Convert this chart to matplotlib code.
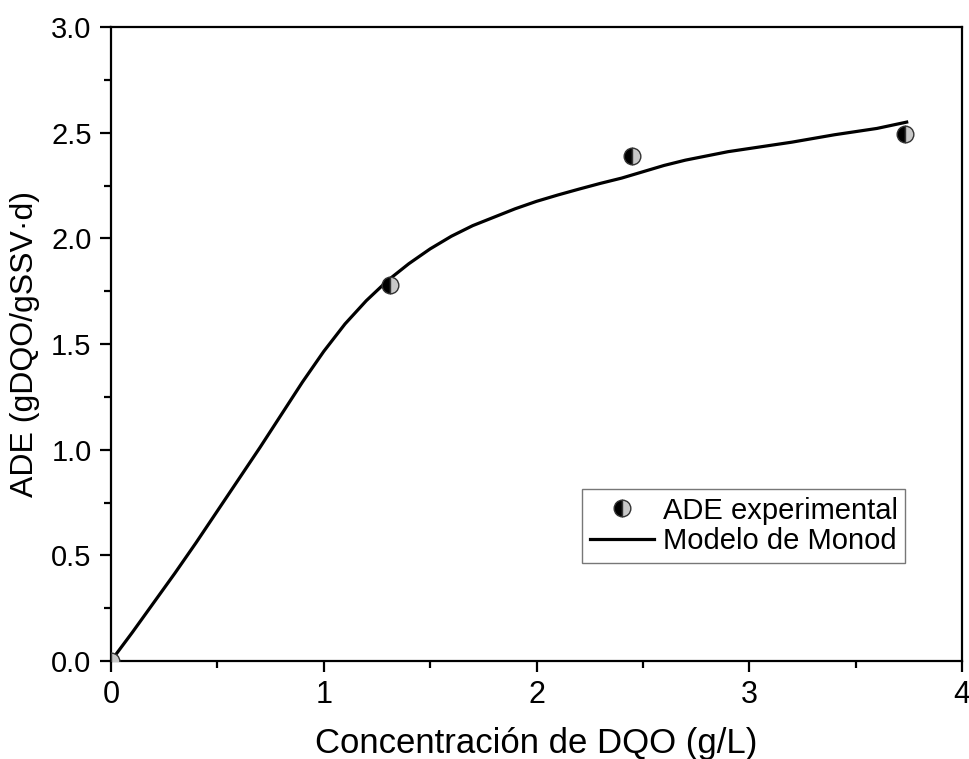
import matplotlib
matplotlib.use("Agg")
import matplotlib.pyplot as plt
from matplotlib.ticker import MultipleLocator, FormatStrFormatter

plt.rcParams['font.family'] = ['Liberation Sans', 'DejaVu Sans']

# experimental points
dqo_exp = [0.0, 1.31, 2.45, 3.73]
ade_exp = [0.0, 1.78, 2.39, 2.495]

# Monod model curve
dqo_model = [0.0, 0.1, 0.2, 0.3, 0.4, 0.5, 0.6, 0.7, 0.8, 0.9, 1.0, 1.1,
             1.2, 1.3, 1.4, 1.5, 1.6, 1.7, 1.8, 1.9, 2.0, 2.1, 2.2, 2.3,
             2.4, 2.5, 2.6, 2.7, 2.8, 2.9, 3.0, 3.2, 3.4, 3.6, 3.74]
ade_model = [0.0, 0.135, 0.275, 0.415, 0.56, 0.71, 0.86, 1.01, 1.165, 1.32,
             1.465, 1.595, 1.705, 1.80, 1.88, 1.95, 2.01, 2.06, 2.10, 2.14,
             2.175, 2.205, 2.233, 2.26, 2.285, 2.315, 2.345, 2.37, 2.39, 2.41,
             2.425, 2.455, 2.49, 2.52, 2.55]

fig = plt.figure(figsize=(9.69, 7.59), dpi=100)
ax = fig.add_axes([111/969, 1 - 661/759, 851/969, 634/759])

ax.plot(dqo_exp, ade_exp, linestyle="none", marker="o", markersize=12,
        fillstyle="left", markerfacecolor="black", markerfacecoloralt="#c8c8c8",
        markeredgecolor="#333333", markeredgewidth=1.0, label="ADE experimental",
        zorder=3)
ax.plot(dqo_model, ade_model, color="black", linewidth=2.3,
        solid_joinstyle="round", label="Modelo de Monod", zorder=2)

ax.set_xlim(0, 4)
ax.set_ylim(0, 3.0)
ax.xaxis.set_major_locator(MultipleLocator(1))
ax.xaxis.set_minor_locator(MultipleLocator(0.5))
ax.yaxis.set_major_locator(MultipleLocator(0.5))
ax.yaxis.set_minor_locator(MultipleLocator(0.25))
ax.yaxis.set_major_formatter(FormatStrFormatter("%.1f"))

for s in ax.spines.values():
    s.set_linewidth(1.6)
ax.tick_params(which="major", direction="out", length=8, width=1.6,
               labelsize=21, pad=6)
ax.tick_params(which="minor", direction="out", length=5, width=1.6)
ax.tick_params(axis="x", which="major", labelsize=22)

ax.set_xlabel("Concentración de DQO (g/L)", fontsize=25, labelpad=12)
ax.set_ylabel("ADE (gDQO/gSSV·d)", fontsize=23, labelpad=8)

leg = ax.legend(loc="lower right", bbox_to_anchor=(0.933, 0.155), fontsize=21,
                frameon=True, fancybox=False, edgecolor="#555555",
                borderpad=0.25, handlelength=2.2, handletextpad=0.3,
                labelspacing=0.1, borderaxespad=0)
leg.get_frame().set_linewidth(1.0)

fig.savefig("out.png", dpi=100)
